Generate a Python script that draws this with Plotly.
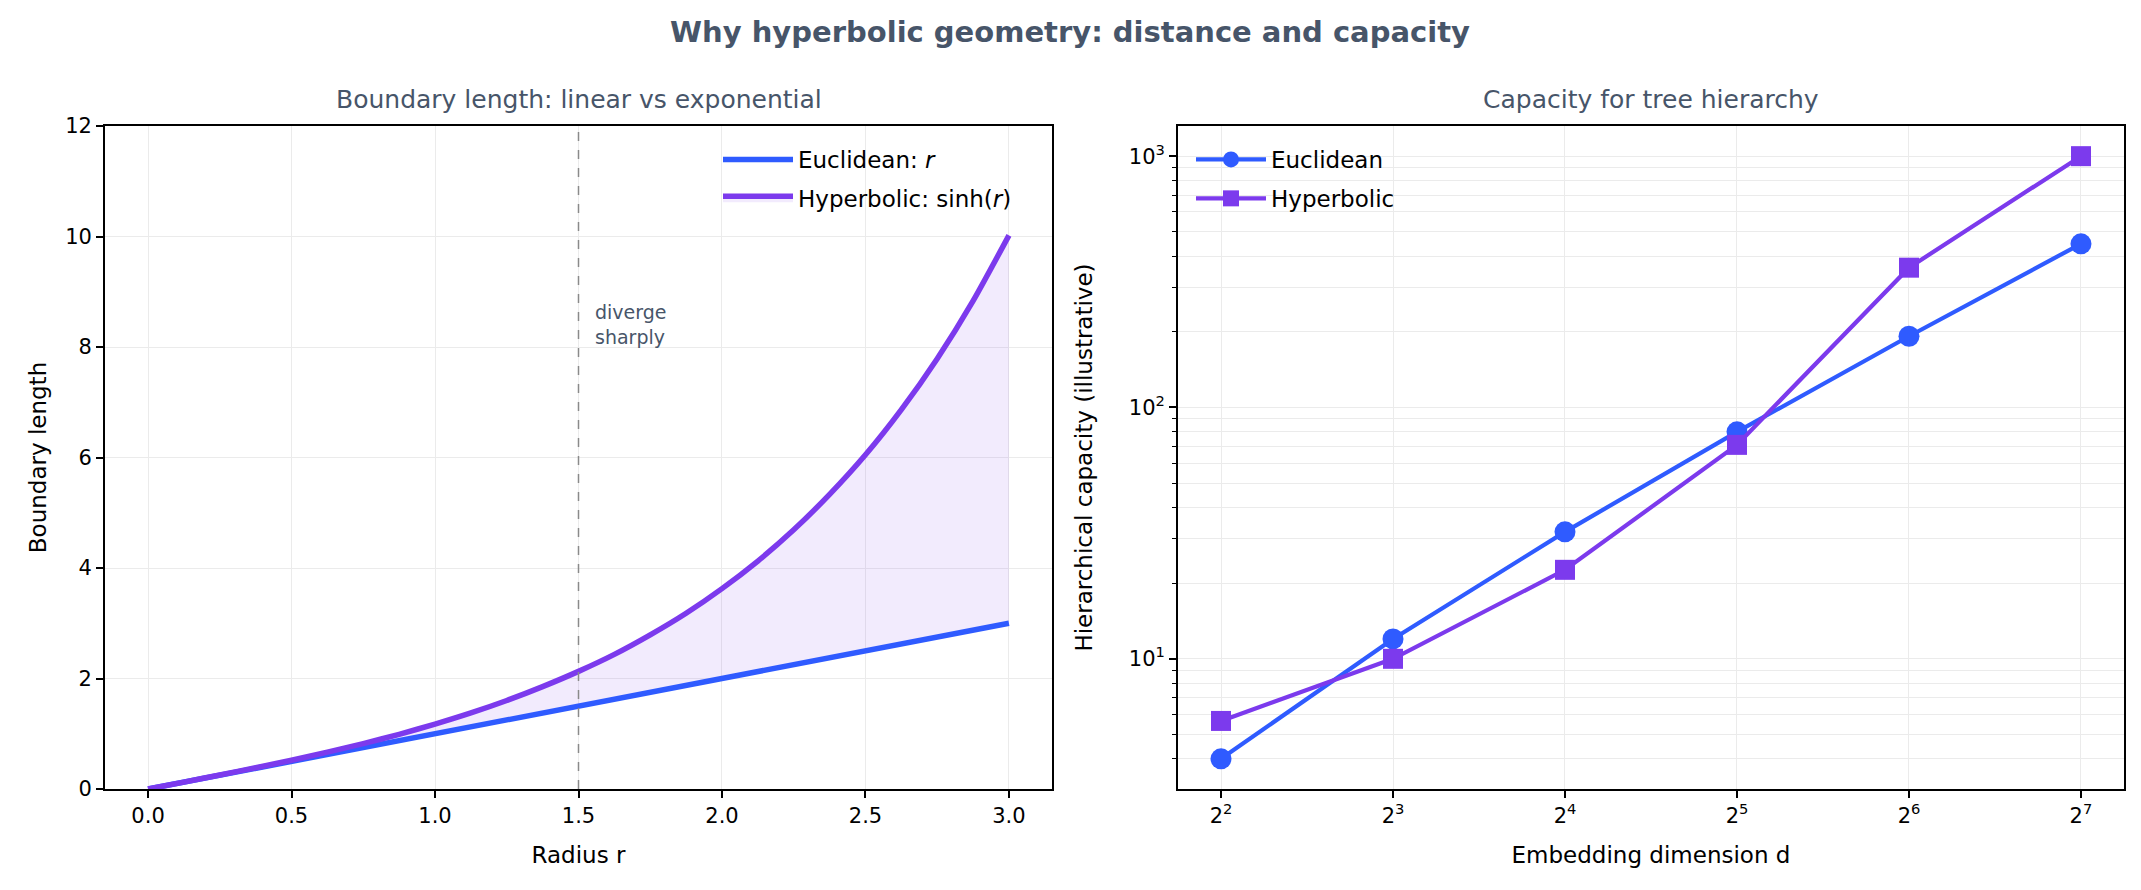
import plotly.graph_objects as go

# ---- Left panel data ----
radius = [0.0, 0.125, 0.25, 0.375, 0.5, 0.625, 0.75, 0.875, 1.0, 1.125, 1.25, 1.375, 1.5,
          1.625, 1.75, 1.875, 2.0, 2.125, 2.25, 2.375, 2.5, 2.625, 2.75, 2.875, 3.0]
euclid_len = [0.0, 0.125, 0.25, 0.375, 0.5, 0.625, 0.75, 0.875, 1.0, 1.125, 1.25, 1.375, 1.5,
              1.625, 1.75, 1.875, 2.0, 2.125, 2.25, 2.375, 2.5, 2.625, 2.75, 2.875, 3.0]
hyper_len = [0.0, 0.125, 0.253, 0.384, 0.521, 0.667, 0.822, 0.990, 1.175, 1.377, 1.602, 1.853, 2.129,
             2.437, 2.790, 3.181, 3.627, 4.126, 4.691, 5.333, 6.050, 6.867, 7.789, 8.835, 10.02]

# ---- Right panel data ----
dims = [4, 8, 16, 32, 64, 128]
dim_labels = ["2<sup>2</sup>", "2<sup>3</sup>", "2<sup>4</sup>", "2<sup>5</sup>", "2<sup>6</sup>", "2<sup>7</sup>"]
euclid_cap = [4, 12, 32, 80, 192, 448]
hyper_cap = [5.66, 10, 22.6, 71, 360, 1000]

BLUE = "#2F5BFF"
PURPLE = "#7C3AED"
SLATE = "#475569"
GRID = "#EBEBEB"
FONT = "DejaVu Sans"

W, H = 2141, 890
L, R, T, B = 105, 17, 126, 101
PW, PH = W - L - R, H - T - B

def px_x(p):
    return (p - L) / PW

def px_y(p):
    return (H - B - p) / PH

fig = go.Figure()

fig.add_trace(go.Scatter(x=radius, y=euclid_len, mode="lines", name="Euclidean: <i>r</i>",
                         line=dict(color=BLUE, width=5.5), xaxis="x", yaxis="y",
                         legend="legend", legendgroup="e1"))
fig.add_trace(go.Scatter(x=radius, y=hyper_len, mode="lines", name="Hyperbolic: sinh(<i>r</i>)",
                         line=dict(color=PURPLE, width=5.5, shape="spline", smoothing=0.6), fill="tonexty",
                         fillcolor="rgba(124,58,237,0.10)", xaxis="x", yaxis="y",
                         legend="legend", legendgroup="h1"))

fig.add_trace(go.Scatter(x=dims, y=euclid_cap, mode="lines+markers", name="Euclidean",
                         line=dict(color=BLUE, width=4.2), marker=dict(symbol="circle", size=21, color=BLUE),
                         xaxis="x2", yaxis="y2", legend="legend2", legendgroup="e2"))
fig.add_trace(go.Scatter(x=dims, y=hyper_cap, mode="lines+markers", name="Hyperbolic",
                         line=dict(color=PURPLE, width=4.2), marker=dict(symbol="square", size=20, color=PURPLE),
                         xaxis="x2", yaxis="y2", legend="legend2", legendgroup="h2"))

axis_common = dict(showline=True, mirror=True, linecolor="black", linewidth=1.7,
                   ticks="outside", ticklen=7, tickwidth=1.7, tickcolor="black",
                   showgrid=True, gridcolor=GRID, gridwidth=1.2, zeroline=False, automargin=False,
                   tickfont=dict(family=FONT, size=21, color="black"))

leg_common = dict(xanchor="left", yanchor="top", bgcolor="rgba(255,255,255,0)",
                  font=dict(family=FONT, size=23, color="black"), tracegroupgap=6,
                  traceorder="grouped", itemwidth=70)

fig.update_layout(
    width=W, height=H, autosize=False,
    margin=dict(l=L, r=R, t=T, b=B, pad=0),
    paper_bgcolor="white", plot_bgcolor="white",
    font=dict(family=FONT, size=21, color="black"),
    title=dict(text="<b>Why hyperbolic geometry: distance and capacity</b>",
               x=1070 / W, xref="container", xanchor="center",
               y=1 - 32 / H, yref="container", yanchor="middle",
               font=dict(family=FONT, size=29, color=SLATE)),
    xaxis=dict(domain=[0, px_x(1052)], range=[-0.15, 3.15],
               tickvals=[0, 0.5, 1, 1.5, 2, 2.5, 3.0],
               ticktext=["0.0", "0.5", "1.0", "1.5", "2.0", "2.5", "3.0"],
               title=dict(text="Radius r", font=dict(family=FONT, size=23), standoff=20),
               anchor="y", **axis_common),
    yaxis=dict(domain=[0, 1], range=[0, 12], tickvals=[0, 2, 4, 6, 8, 10, 12],
               title=dict(text="Boundary length", font=dict(family=FONT, size=23), standoff=12),
               anchor="x", **axis_common),
    xaxis2=dict(domain=[px_x(1178), 1], type="log", range=[0.5268, 2.1825],
                tickvals=dims, ticktext=dim_labels,
                title=dict(text="Embedding dimension d", font=dict(family=FONT, size=23), standoff=20),
                anchor="y2", **axis_common),
    yaxis2=dict(domain=[0, 1], type="log", range=[0.482, 3.12],
                tickvals=[10, 100, 1000], ticktext=["10<sup>1</sup>", "10<sup>2</sup>", "10<sup>3</sup>"],
                minor=dict(ticks="outside", ticklen=4, tickwidth=1.2, tickcolor="black",
                           showgrid=True, gridcolor=GRID, gridwidth=1.0, dtick="D1"),
                title=dict(text="Hierarchical capacity (illustrative)", font=dict(family=FONT, size=23), standoff=30),
                anchor="x2", **axis_common),
    legend=dict(x=px_x(718), y=px_y(138), **leg_common),
    legend2=dict(x=px_x(1191), y=px_y(138), **leg_common),
    showlegend=True,
)

# vertical dashed marker at r = 1.5
fig.add_shape(type="line", x0=1.5, x1=1.5, y0=0, y1=1, xref="x", yref="y domain",
              line=dict(color="#8A8A8A", width=1.5, dash="dash"))

fig.add_annotation(x=1.55, y=7.95, xref="x", yref="y", text="diverge<br>sharply",
                   showarrow=False, xanchor="left", yanchor="bottom", align="left",
                   font=dict(family=FONT, size=19, color=SLATE))

# subplot titles
fig.add_annotation(x=px_x((105 + 1052) / 2), y=px_y(100), xref="paper", yref="paper",
                   text="Boundary length: linear vs exponential", showarrow=False,
                   xanchor="center", yanchor="middle", font=dict(family=FONT, size=25, color=SLATE))
fig.add_annotation(x=px_x((1178 + 2124) / 2), y=px_y(100), xref="paper", yref="paper",
                   text="Capacity for tree hierarchy", showarrow=False,
                   xanchor="center", yanchor="middle", font=dict(family=FONT, size=25, color=SLATE))

fig.write_html("out.html")
